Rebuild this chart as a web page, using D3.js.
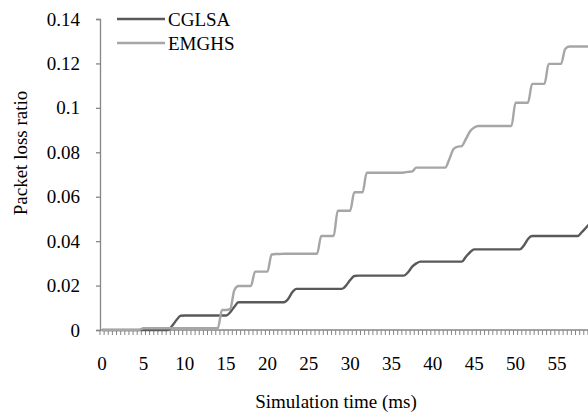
<!DOCTYPE html>
<html>
<head>
<meta charset="utf-8">
<script src="https://cdn.jsdelivr.net/npm/d3@7"></script>
<style>
  html, body { margin: 0; padding: 0; background: #fff; }
  svg { display: block; }
  text { font-family: "Liberation Serif", "Times New Roman", serif; fill: #000; }
</style>
</head>
<body>
<svg id="chart" width="588" height="415"></svg>
<script>
// ---- data ----
const categories = d3.range(0, 59.5, 0.5); // simulation time (ms), one category every 0.5 ms
const xTickLabels = [0, 5, 10, 15, 20, 25, 30, 35, 40, 45, 50, 55];
const yTickLabels = [0, 0.02, 0.04, 0.06, 0.08, 0.1, 0.12, 0.14];
const seriesNames = ["CGLSA", "EMGHS"];

const cglsa = [
  0,0,0,0,0,0,0,0,0,0,0,0,0,0,0,0,0,
  0.002,0.0045,0.0064,
  0.0065,0.0065,0.0065,0.0065,0.0065,0.0065,0.0065,0.0065,0.0065,0.0065,0.0065,
  0.008,0.0105,0.0125,
  0.0125,0.0125,0.0125,0.0125,0.0125,0.0125,0.0125,0.0125,0.0125,0.0125,0.0125,
  0.014,0.017,0.0185,
  0.0185,0.0185,0.0185,0.0185,0.0185,0.0185,0.0185,0.0185,0.0185,0.0185,0.0185,
  0.020,0.0225,0.0243,
  0.0245,0.0245,0.0245,0.0245,0.0245,0.0245,0.0245,0.0245,0.0245,0.0245,0.0245,0.0245,
  0.026,0.0285,0.030,0.0308,
  0.0308,0.0308,0.0308,0.0308,0.0308,0.0308,0.0308,0.0308,0.0308,0.0308,
  0.033,0.035,0.0363,
  0.0363,0.0363,0.0363,0.0363,0.0363,0.0363,0.0363,0.0363,0.0363,0.0363,0.0363,
  0.038,0.041,0.0423,
  0.0423,0.0423,0.0423,0.0423,0.0423,0.0423,0.0423,0.0423,0.0423,0.0423,0.0423,
  0.044,0.046,0.048
];

const emghs = [
  0,0,0,0,0,0,0,0,0,0,
  0.0008,0.0008,0.0008,0.0008,0.0008,0.0008,0.0008,0.0008,0.0008,0.0008,
  0.0008,0.0008,0.0008,0.0008,0.0008,0.0008,0.0008,0.0008,0.0008,
  0.009,0.009,0.0095,
  0.018,
  0.0198,0.0198,0.0198,0.0198,
  0.0263,0.0263,0.0263,0.0263,
  0.0340,0.0342,0.0342,0.0343,0.0343,0.0343,0.0343,0.0343,0.0343,0.0343,0.0343,0.0343,
  0.0423,0.0423,0.0423,0.0423,
  0.0537,0.0537,0.0537,0.0537,
  0.062,0.062,0.062,
  0.0708,0.0708,0.0708,0.0708,0.0708,0.0708,0.0708,0.0708,0.0708,
  0.0709,0.0712,0.0714,0.0731,
  0.0731,0.0731,0.0731,0.0731,0.0731,0.0731,0.0731,
  0.077,0.0815,0.0825,0.0828,
  0.086,0.0895,0.0912,
  0.0918,0.0918,0.0918,0.0918,0.0918,0.0918,0.0918,0.0918,0.0918,
  0.1023,0.1023,0.1023,0.1023,
  0.1108,0.1108,0.1108,0.1108,
  0.1198,0.1198,0.1198,0.1198,
  0.1265,
  0.1276,0.1276,0.1276,0.1276,0.1276,0.1276
];

const seriesValues = [cglsa, emghs];
const seriesColors = ["#595959", "#a6a6a6"];

// ---- layout ----
const svg = d3.select("#chart");
const axisLeft = 100, plotTop = 19, plotBottom = 330;
const bandW = 4.135;
const fontSize = "19px";

const x = d3.scaleBand()
  .domain(categories)
  .range([axisLeft, axisLeft + categories.length * bandW])
  .paddingInner(0).paddingOuter(0);

const y = d3.scaleLinear().domain([0, 0.14]).range([plotBottom, plotTop]);

const axisColor = "#868686";

// y axis
const yAxis = d3.axisLeft(y)
  .tickValues(yTickLabels)
  .tickSize(4)
  .tickPadding(16)
  .tickFormat(d => d === 0 ? "0" : String(+d.toFixed(2)));
const gy = svg.append("g").attr("transform", `translate(${axisLeft},0)`).call(yAxis);
gy.select(".domain").attr("stroke", axisColor).attr("stroke-width", 1.3);
gy.selectAll(".tick line").attr("stroke", axisColor).attr("stroke-width", 1.3);
gy.selectAll(".tick text").style("font-size", fontSize).style("font-family", "'Liberation Serif', serif").attr("fill", "#000");

// x axis: ticks between categories (Excel style)
const gx = svg.append("g").attr("transform", `translate(0,${plotBottom})`);
gx.append("line")
  .attr("x1", axisLeft).attr("x2", x.range()[1])
  .attr("stroke", axisColor).attr("stroke-width", 1.3);
const boundaries = categories.map(c => x(c)).concat([x.range()[1]]);
gx.selectAll("line.tk").data(boundaries).join("line")
  .attr("class", "tk")
  .attr("x1", d => d).attr("x2", d => d)
  .attr("y1", 0).attr("y2", 5)
  .attr("stroke", axisColor).attr("stroke-width", 1);
gx.selectAll("text.lbl").data(xTickLabels).join("text")
  .attr("class", "lbl")
  .attr("x", d => x(d) + x.bandwidth() / 2)
  .attr("y", 40)
  .attr("text-anchor", "middle")
  .style("font-size", fontSize)
  .text(d => d);

// lines
const line = d3.line()
  .x((d, i) => x(categories[i]) + x.bandwidth() / 2)
  .y(d => y(d))
  .curve(d3.curveMonotoneX);

seriesValues.forEach((vals, k) => {
  svg.append("path")
    .datum(vals)
    .attr("fill", "none")
    .attr("stroke", seriesColors[k])
    .attr("stroke-width", 2.4)
    .attr("stroke-linejoin", "round")
    .attr("d", line);
});

// legend
seriesNames.forEach((name, k) => {
  const ly = 19 + k * 24;
  svg.append("line")
    .attr("x1", 117).attr("x2", 165).attr("y1", ly).attr("y2", ly)
    .attr("stroke", seriesColors[k]).attr("stroke-width", 2.4);
  svg.append("text")
    .attr("x", 168).attr("y", ly).attr("dy", "0.35em")
    .style("font-size", fontSize)
    .text(name);
});

// axis titles
svg.append("text")
  .attr("transform", "translate(27,153) rotate(-90)")
  .attr("text-anchor", "middle")
  .style("font-size", fontSize)
  .text("Packet loss ratio");

svg.append("text")
  .attr("x", 336).attr("y", 408)
  .attr("text-anchor", "middle")
  .style("font-size", fontSize)
  .text("Simulation time (ms)");
</script>
</body>
</html>
